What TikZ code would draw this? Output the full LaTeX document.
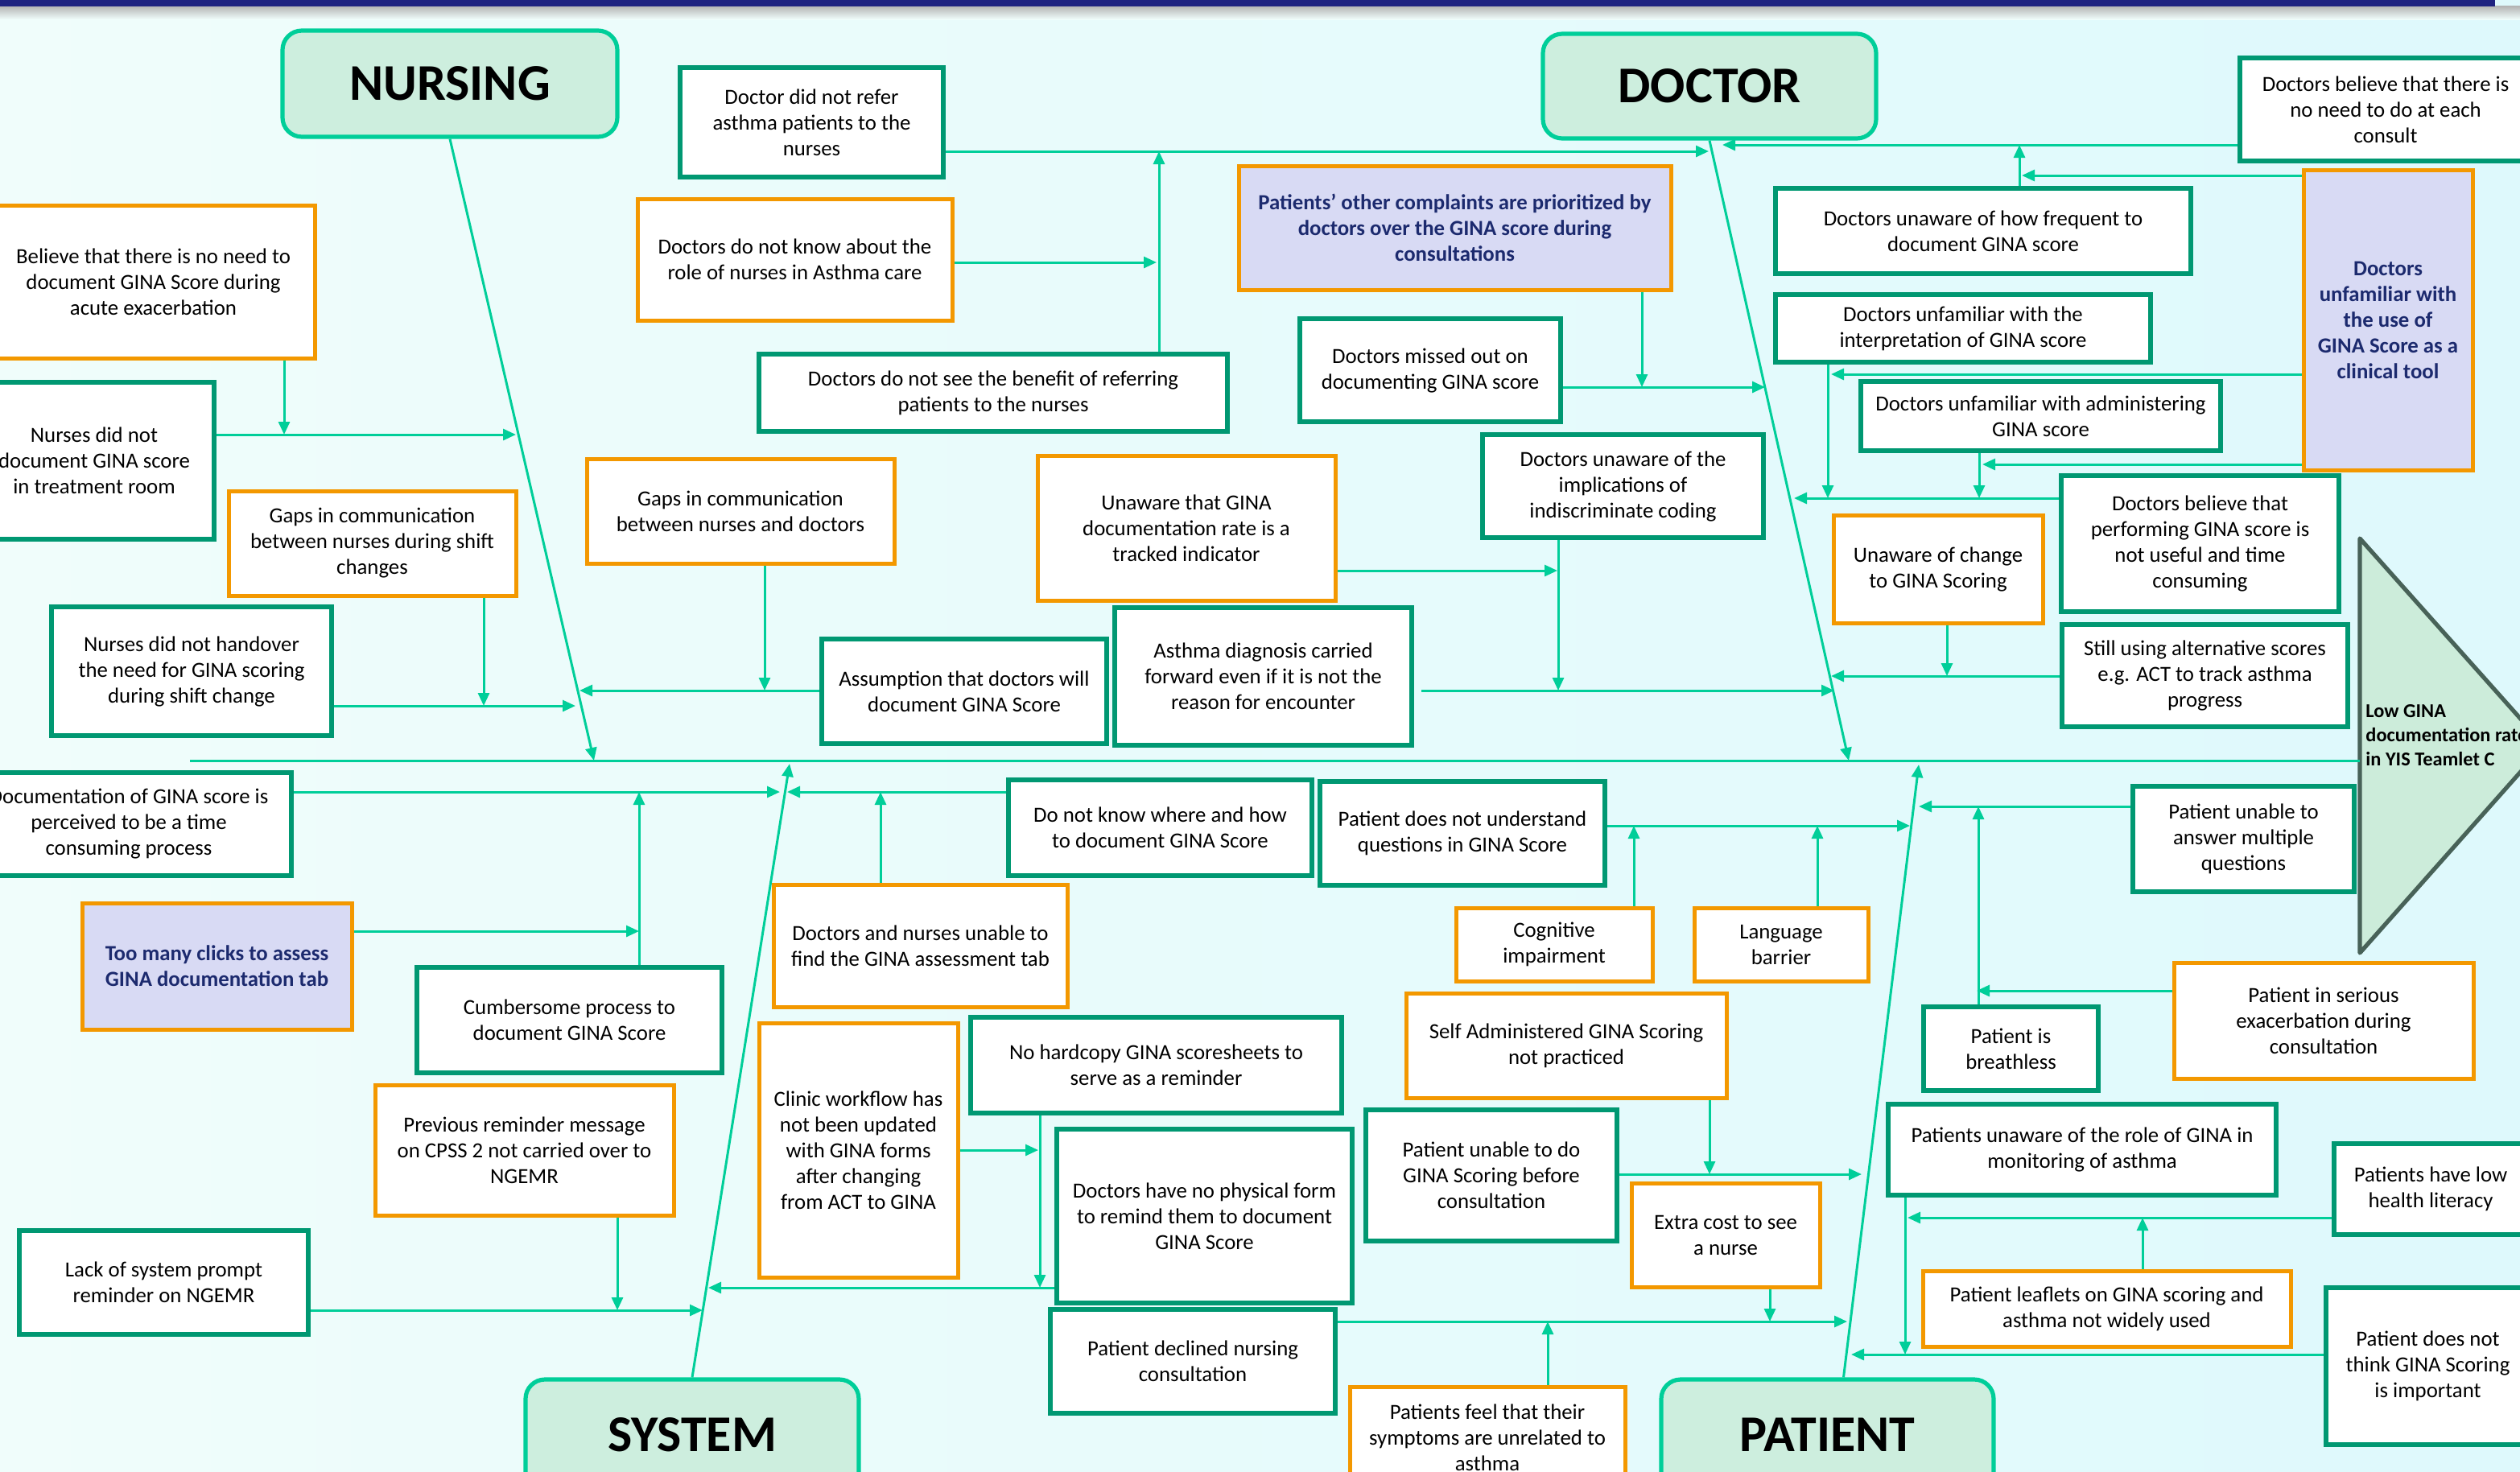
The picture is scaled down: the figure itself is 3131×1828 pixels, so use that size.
\documentclass[tikz,border=0pt]{standalone}
\usepackage{fontspec}
\setmainfont{Carlito}
\usetikzlibrary{arrows.meta}
\definecolor{bgL}{RGB}{240,253,251}
\definecolor{bgR}{RGB}{222,249,252}
\definecolor{navybar}{RGB}{30,34,128}
\definecolor{gboxc}{RGB}{0,152,114}
\definecolor{oboxc}{RGB}{243,152,0}
\definecolor{purpfill}{RGB}{216,218,244}
\definecolor{navytext}{RGB}{28,42,110}
\definecolor{hdrfill}{RGB}{205,238,222}
\definecolor{connc}{RGB}{0,206,153}
\definecolor{trifill}{RGB}{204,236,218}
\definecolor{triedge}{RGB}{72,98,88}
\tikzset{
  boxbase/.style={inner sep=0pt, align=center, font=\fontsize{13.4}{16}\selectfont, text=black},
  gbox/.style={boxbase, draw=gboxc, line width=2.8pt, fill=white},
  obox/.style={boxbase, draw=oboxc, line width=2.5pt, fill=white},
  pbox/.style={boxbase, draw=oboxc, line width=2.5pt, fill=purpfill, text=navytext, font=\fontsize{13.4}{16}\selectfont\bfseries},
  hbox/.style={inner sep=0pt, draw=connc, line width=2.6pt, fill=hdrfill, rounded corners=12pt, font=\fontsize{32}{38}\selectfont\bfseries},
  conn/.style={draw=connc, line width=1.5pt, -{Triangle[length=8pt,width=7pt]}},
  plain/.style={draw=connc, line width=1.5pt},
}
% style, name, x1, y1, x2, y2, text   (coordinates in reference pixels)
\newcommand{\mkbox}[7]{%
  \pgfmathsetmacro{\mybw}{(#5-#3)*0.5}%
  \pgfmathsetmacro{\mybh}{(#6-#4)*0.5}%
  \node[#1, minimum width=\mybw pt, minimum height=\mybh pt] (#2) at ({(#3+#5)/2},{(#4+#6)/2}) {#7};}
\begin{document}
\begin{tikzpicture}[x=0.5pt,y=-0.5pt]
\useasboundingbox (0,0) rectangle (3131,1828);
\clip (0,0) rectangle (3131,1828);
\shade[left color=bgL, right color=bgR] (0,0) rectangle (3131,1828);
\shade[top color=black!30, bottom color=bgL] (0,7) rectangle (3131,24);
\fill[navybar] (0,0) rectangle (3100,8);

% ---------- headers ----------
\mkbox{hbox}{hnurs}{351}{38}{767}{170}{NURSING}
\mkbox{hbox}{hdoc}{1917}{42}{2331}{172}{DOCTOR}
\mkbox{hbox}{hsys}{653}{1714}{1067}{1852}{SYSTEM}
\mkbox{hbox}{hpat}{2064}{1714}{2477}{1852}{PATIENT}

% ---------- head triangle ----------
\draw[draw=triedge, fill=trifill, line width=2.6pt, line join=round] (2932,669) -- (3161,926) -- (2932,1184) -- cycle;
\coordinate (head) at (2932,945);
\node[anchor=west, align=left, inner sep=0pt, font=\fontsize{12.2}{15}\selectfont\bfseries] (effect) at (2939,914) {Low GINA\\documentation rate\\in YIS Teamlet C};

% ---------- spine and bones ----------
\coordinate (spL) at (236,945);
\coordinate (spN) at (738,945);
\coordinate (spD) at (2297,945);
\coordinate (spS) at (981,949);
\coordinate (spP) at (2384,950);
\draw[plain] (spL) -- (head);
\draw[conn] (hnurs.south) -- (spN);
\draw[conn] (hdoc.south) -- (spD);
\draw[conn] (hsys.north) -- (spS);
\draw[conn] ([xshift=10pt]hpat.north) -- (spP);

% ---------- nursing boxes ----------
\mkbox{obox}{believe}{-10}{255}{391}{445}{Believe that there is no need to\\document GINA Score during\\acute exacerbation}
\mkbox{gbox}{nddoc}{-32}{475}{266}{670}{Nurses did not\\document GINA score\\in treatment room}
\mkbox{obox}{gapshift}{284}{610}{641}{740}{Gaps in communication\\between nurses during shift\\changes}
\mkbox{gbox}{handover}{64}{754}{412}{914}{Nurses did not handover\\the need for GINA scoring\\during shift change}
\mkbox{gbox}{refer}{845}{84}{1172}{220}{Doctor did not refer\\asthma patients to the\\nurses}
\mkbox{obox}{rolenurse}{792}{247}{1183}{398}{Doctors do not know about the\\role of nurses in Asthma care}
\mkbox{gbox}{benefit}{943}{440}{1525}{536}{Doctors do not see the benefit of referring\\patients to the nurses}
\mkbox{obox}{gapnd}{729}{570}{1111}{700}{Gaps in communication\\between nurses and doctors}
\mkbox{gbox}{assume}{1021}{794}{1375}{924}{Assumption that doctors will\\document GINA Score}

% ---------- doctor boxes ----------
\mkbox{pbox}{prior}{1539}{206}{2076}{360}{Patients’ other complaints are prioritized by\\doctors over the GINA score during\\consultations}
\mkbox{gbox}{missed}{1615}{396}{1939}{524}{Doctors missed out on\\documenting GINA score}
\mkbox{obox}{tracked}{1289}{566}{1659}{746}{Unaware that GINA\\documentation rate is a\\tracked indicator}
\mkbox{gbox}{carried}{1385}{755}{1754}{926}{Asthma diagnosis carried\\forward even if it is not the\\reason for encounter}
\mkbox{gbox}{implic}{1842}{540}{2191}{668}{Doctors unaware of the\\implications of\\indiscriminate coding}
\mkbox{gbox}{noneed}{2783}{72}{3145}{200}{Doctors believe that there is\\no need to do at each\\consult}
\mkbox{gbox}{freq}{2206}{234}{2722}{340}{Doctors unaware of how frequent to\\document GINA score}
\mkbox{pbox}{tool}{2862}{211}{3072}{584}{Doctors\\unfamiliar with\\the use of\\GINA Score as a\\clinical tool}
\mkbox{gbox}{interp}{2206}{366}{2672}{450}{Doctors unfamiliar with the\\interpretation of GINA score}
\mkbox{gbox}{admin}{2312}{474}{2759}{560}{Doctors unfamiliar with administering\\GINA score}
\mkbox{obox}{change}{2278}{640}{2538}{774}{Unaware of change\\to GINA Scoring}
\mkbox{gbox}{useless}{2561}{591}{2906}{760}{Doctors believe that\\performing GINA score is\\not useful and time\\consuming}
\mkbox{gbox}{altscore}{2562}{776}{2917}{903}{Still using alternative scores\\e.g. ACT to track asthma\\progress}

% ---------- system boxes ----------
\mkbox{gbox}{perceived}{-42}{960}{362}{1088}{Documentation of GINA score is\\perceived to be a time\\consuming process}
\mkbox{pbox}{clicks}{102}{1122}{437}{1279}{Too many clicks to assess\\GINA documentation tab}
\mkbox{gbox}{cumber}{518}{1202}{897}{1333}{Cumbersome process to\\document GINA Score}
\mkbox{obox}{prevrem}{466}{1348}{837}{1510}{Previous reminder message\\on CPSS 2 not carried over to\\NGEMR}
\mkbox{gbox}{lack}{24}{1529}{383}{1658}{Lack of system prompt\\reminder on NGEMR}
\mkbox{gbox}{where}{1253}{969}{1630}{1088}{Do not know where and how\\to document GINA Score}
\mkbox{obox}{unabletab}{961}{1099}{1326}{1251}{Doctors and nurses unable to\\find the GINA assessment tab}
\mkbox{obox}{workflow}{943}{1271}{1190}{1587}{Clinic workflow has\\not been updated\\with GINA forms\\after changing\\from ACT to GINA}
\mkbox{gbox}{hardcopy}{1206}{1264}{1667}{1383}{No hardcopy GINA scoresheets to\\serve as a reminder}
\mkbox{gbox}{physical}{1313}{1403}{1680}{1619}{Doctors have no physical form\\to remind them to document\\GINA Score}
\mkbox{gbox}{declined}{1305}{1627}{1659}{1756}{Patient declined nursing\\consultation}

% ---------- patient boxes ----------
\mkbox{gbox}{understand}{1640}{971}{1994}{1100}{Patient does not understand\\questions in GINA Score}
\mkbox{obox}{cognitive}{1809}{1128}{2053}{1219}{Cognitive\\impairment}
\mkbox{obox}{language}{2105}{1128}{2321}{1219}{Language\\barrier}
\mkbox{obox}{selfadm}{1747}{1234}{2145}{1364}{Self Administered GINA Scoring\\not practiced}
\mkbox{gbox}{unabledo}{1697}{1379}{2009}{1542}{Patient unable to do\\GINA Scoring before\\consultation}
\mkbox{obox}{cost}{2027}{1470}{2261}{1599}{Extra cost to see\\a nurse}
\mkbox{obox}{feel}{1677}{1723}{2019}{1850}{Patients feel that their\\symptoms are unrelated to\\asthma}
\mkbox{gbox}{answer}{2650}{977}{2925}{1108}{Patient unable to\\answer multiple\\questions}
\mkbox{gbox}{breath}{2390}{1251}{2607}{1355}{Patient is\\breathless}
\mkbox{obox}{serious}{2701}{1196}{3073}{1340}{Patient in serious\\exacerbation during\\consultation}
\mkbox{gbox}{role2}{2346}{1372}{2828}{1485}{Patients unaware of the role of GINA in\\monitoring of asthma}
\mkbox{gbox}{literacy}{2900}{1421}{3140}{1534}{Patients have low\\health literacy}
\mkbox{obox}{leaflet}{2389}{1579}{2846}{1673}{Patient leaflets on GINA scoring and\\asthma not widely used}
\mkbox{gbox}{think}{2890}{1600}{3143}{1795}{Patient does not\\think GINA Scoring\\is important}

% ---------- nursing connectors ----------
\coordinate (nA) at (641,540);
\coordinate (nA1) at (353,540);
\draw[conn] (nddoc.east |- nA) -- (nA);
\draw[conn] (believe.south -| nA1) -- (nA1);
\coordinate (nB) at (715,877);
\coordinate (nB1) at (601,877);
\draw[conn] (handover.east |- nB) -- (nB);
\draw[conn] (gapshift.south -| nB1) -- (nB1);
\coordinate (nC) at (720,858);
\coordinate (nC1) at (950,858);
\draw[conn] (assume.west |- nC) -- (nC);
\draw[conn] (gapnd.south -| nC1) -- (nC1);
\coordinate (dA) at (2123,188);
\coordinate (dA1) at (1440,188);
\coordinate (dA2) at (1437,326);
\draw[conn] (refer.east |- dA) -- (dA);
\draw[conn] (benefit.north -| dA1) -- (dA1);
\draw[conn] (rolenurse.east |- dA2) -- (dA2);

% ---------- doctor connectors ----------
\coordinate (dB) at (2140,180);
\coordinate (dB1) at (2509,180);
\coordinate (dB2) at (2512,218);
\draw[conn] (noneed.west |- dB) -- (dB);
\draw[conn] (freq.north -| dB1) -- (dB1);
\draw[conn] (tool.west |- dB2) -- (dB2);
\coordinate (dC) at (2193,481);
\coordinate (dC1) at (2040,481);
\draw[conn] (missed.east |- dC) -- (dC);
\draw[conn] (prior.south -| dC1) -- (dC1);
\coordinate (dD) at (2229,619);
\coordinate (dD1) at (2271,619);
\coordinate (dD2) at (2459,619);
\coordinate (dD3) at (2275,465);
\coordinate (dD4) at (2463,577);
\draw[conn] (useless.west |- dD) -- (dD);
\draw[conn] (interp.south -| dD1) -- (dD1);
\draw[conn] (admin.south -| dD2) -- (dD2);
\draw[conn] (tool.west |- dD3) -- (dD3);
\draw[conn] (tool.west |- dD4) -- (dD4);
\coordinate (dEs) at (1766,858);
\coordinate (dE) at (2279,858);
\coordinate (dE1) at (1936,858);
\coordinate (dE2) at (1935,709);
\draw[conn] (dEs) -- (dE);
\draw[conn] (implic.south -| dE1) -- (dE1);
\draw[conn] (tracked.east |- dE2) -- (dE2);
\coordinate (dF) at (2275,840);
\coordinate (dF1) at (2419,840);
\draw[conn] (altscore.west |- dF) -- (dF);
\draw[conn] (change.south -| dF1) -- (dF1);

% ---------- system connectors ----------
\coordinate (sA) at (969,984);
\coordinate (sA1) at (794,984);
\coordinate (sA2) at (794,1157);
\draw[conn] (perceived.east |- sA) -- (sA);
\draw[conn] (cumber.north -| sA1) -- (sA1);
\draw[conn] (clicks.east |- sA2) -- (sA2);
\coordinate (sB) at (978,984);
\coordinate (sB1) at (1094,984);
\draw[conn] (where.west |- sB) -- (sB);
\draw[conn] (unabletab.north -| sB1) -- (sB1);
\coordinate (sC) at (880,1600);
\coordinate (sC1) at (1292,1600);
\coordinate (sC2) at (1290,1429);
\draw[conn] (physical.west |- sC) -- (sC);
\draw[conn] (hardcopy.south -| sC1) -- (sC1);
\draw[conn] (workflow.east |- sC2) -- (sC2);
\coordinate (sD) at (873,1628);
\coordinate (sD1) at (767,1628);
\draw[conn] (lack.east |- sD) -- (sD);
\draw[conn] (prevrem.south -| sD1) -- (sD1);

% ---------- patient connectors ----------
\coordinate (pA) at (2373,1026);
\coordinate (pA1) at (2030,1026);
\coordinate (pA2) at (2258,1026);
\draw[conn] (understand.east |- pA) -- (pA);
\draw[conn] (cognitive.north -| pA1) -- (pA1);
\draw[conn] (language.north -| pA2) -- (pA2);
\coordinate (pB) at (2384,1002);
\coordinate (pB1) at (2458,1002);
\coordinate (pB2) at (2456,1231);
\draw[conn] (answer.west |- pB) -- (pB);
\draw[conn] (breath.north -| pB1) -- (pB1);
\draw[conn] (serious.west |- pB2) -- (pB2);
\coordinate (pC) at (2313,1459);
\coordinate (pC1) at (2124,1459);
\draw[conn] (unabledo.east |- pC) -- (pC);
\draw[conn] (selfadm.south -| pC1) -- (pC1);
\coordinate (pD) at (2295,1642);
\coordinate (pD1) at (2199,1642);
\coordinate (pD2) at (1923,1642);
\draw[conn] (declined.east |- pD) -- (pD);
\draw[conn] (cost.south -| pD1) -- (pD1);
\draw[conn] (feel.north -| pD2) -- (pD2);
\coordinate (pE) at (2300,1683);
\coordinate (pE1) at (2367,1683);
\coordinate (pE2) at (2370,1513);
\coordinate (pE3) at (2662,1513);
\draw[conn] (think.west |- pE) -- (pE);
\draw[conn] (role2.south -| pE1) -- (pE1);
\draw[conn] (literacy.west |- pE2) -- (pE2);
\draw[conn] (leaflet.north -| pE3) -- (pE3);
\end{tikzpicture}
\end{document}
